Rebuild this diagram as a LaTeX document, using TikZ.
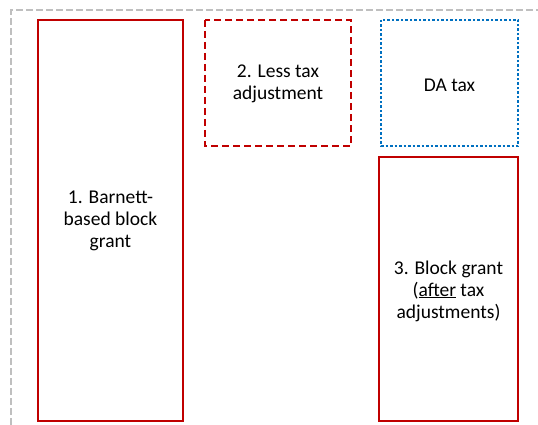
\documentclass[tikz,border=0pt]{standalone}
\usepackage{fontspec}
\setmainfont{Carlito}
\definecolor{ifsred}{HTML}{C00000}
\definecolor{ifsblue}{HTML}{0070C0}
\definecolor{framegray}{HTML}{BFBFBF}
\begin{document}
\begin{tikzpicture}[x=1pt,y=-1pt,
  box/.style={draw=ifsred,line width=2.4pt},
  lbl/.style={align=center,font=\fontsize{19.5}{22}\selectfont}]
\useasboundingbox (0,0) rectangle (538,425);
\draw[framegray,line width=1.8pt,dash pattern=on 7pt off 3pt] (11,425) -- (11,10) -- (538,10);
\draw[box] (38,20) rectangle (183,421);
\node[lbl] (b1) at (110.5,221) {1. Barnett-\\based block\\grant};
\draw[box,dash pattern=on 7pt off 4pt] (205,20) rectangle (351,146);
\node[lbl] (b2) at (278,84) {2. Less tax\\adjustment};
\draw[draw=ifsblue,line width=2.6pt,dash pattern=on 2.5pt off 2pt] (381,20) rectangle (518,146);
\node[lbl] (b3) at (449.5,85) {DA tax};
\draw[box] (379,157) rectangle (518,421);
\node[lbl] (b4) at (448.5,291) {3. Block grant\\(\underline{after} tax\\adjustments)};
\end{tikzpicture}
\end{document}
